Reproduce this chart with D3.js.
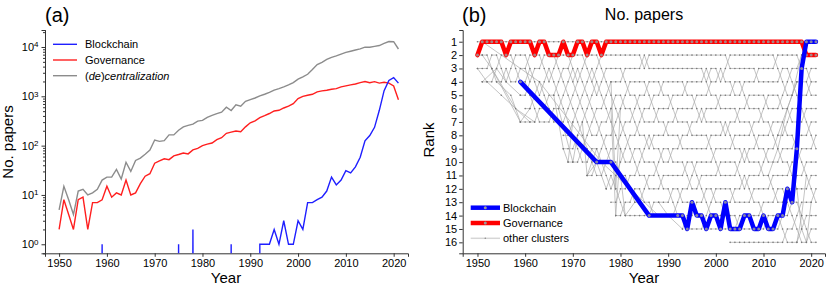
<!DOCTYPE html>
<html>
<head>
<meta charset="utf-8">
<script src="https://cdn.jsdelivr.net/npm/d3@7"></script>
<style>
body { margin: 0; background: #fff; }
svg { font-family: "Liberation Sans", Arial, sans-serif; }
.axis path, .axis line { stroke: #333; }
.axis text { font-size: 11px; fill: #000; }
</style>
</head>
<body>
<svg id="chart" width="831" height="290"></svg>
<script>
// ---- data ----
var years = d3.range(1950, 2022);

var blockchainPapers = [0,0,0,0,0,0,0,0,0,1,
  0,0,0,0,0,0,0,0,0,0, 0,0,0,0,0,1,0,0,2,0,
  0,0,0,0,0,0,1,0,0,0, 0,0,1,1,1,2,1,3,1,1,
  3,2,7,7,8,9,12,23,16,20, 31,28,37,58,125,160,235,520,1300,2100,
  2400,1850];
var governancePapers = [2,8,4,2,8,9,2,7,7,8,
  15,9,11,10,20,10,11,17,24,27,
  44,49,54,52,62,66,71,68,82,88,
  100,107,113,132,145,178,188,198,192,240,
  290,318,370,405,448,505,520,580,630,710,
  900,1000,1050,1100,1230,1290,1330,1390,1430,1550,
  1630,1710,1780,1900,2000,1880,1980,1850,1920,1850,
  1620,850];
var decentralizationPapers = [5,15,8,4,12,13,10,11,13,20,
  23,23,33,21,46,30,50,56,67,81,
  130,122,126,165,165,205,240,258,272,315,
  325,375,410,445,475,600,515,670,630,790,
  855,925,1020,1100,1200,1330,1430,1550,1700,1900,
  2230,2480,2800,3480,4400,4900,5600,6150,6600,7150,
  7750,8200,8700,9150,9900,9900,10300,10700,11800,12900,
  12800,9100];

// rank of each cluster (null = no papers that year)
var governanceRank = [2,1,1,1,1,1,2,1,1,1, 1,1,2,1,1,2,2,2,1,2,
  2,1,1,2,1,1,2,1,1,1, 1,1,1,1,1,1,1,1,1,1,
  1,1,1,1,1,1,1,1,1,1, 1,1,1,1,1,1,1,1,1,1,
  1,1,1,1,1,1,1,1,1,2, 2,2];
var blockchainRank = [null,null,null,null,null,null,null,null,null,4,
  null,null,null,null,null,null,null,null,null,null,
  null,null,null,null,null,10,null,null,10,null,
  null,null,null,null,null,null,14,null,null,null,
  null,null,14,14,15,13,14,14,15,14,
  14,15,13,15,15,15,14,14,15,15,
  14,15,15,14,14,12,13,9,3,1,
  1,1];

// other clusters: first year each rank is occupied, and swaps between rank r and r+1 (year -> year+1)
var rankTicks = d3.range(1, 17);
var rankFirstYear = [1950,1950,1950,1951,1959,1960,1959,1968,1968,1969,1973,1977,1978,1979,1993,2003];
var rankSwaps = [
  [],
  [1952,1954,1957,1960,1963,1966,1969,1972,1975,1984,1985,2002,2012,2017],
  [1953,1955,1956,1958,1960,1961,1964,1965,1967,1969,1970,1971,1973,1974,1976,1980,1997,1998,2000,2001,2008,2013,2015,2019],
  [1960,1962,1963,1966,1968,1970,1972,1974,1975,1977,1981,1985,1988,1993,1998,2003,2005,2014,2016,2019],
  [1961,1964,1967,1969,1971,1973,1976,1978,1980,1983,1986,1990,1995,2000,2006,2010,2013,2017],
  [1962,1965,1968,1970,1972,1974,1977,1979,1982,1984,1987,1991,1996,1997,2004,2009,2015,2018],
  [1969,1971,1973,1975,1978,1980,1983,1989,1994,2001,2002,2007,2011,2014,2019],
  [1970,1972,1976,1979,1981,1985,1986,1992,1998,2003,2008,2012,2016,2020],
  [1971,1973,1975,1977,1980,1982,1984,1988,1990,1999,2005,2006,2010,2013,2017],
  [1974,1976,1979,1983,1987,1993,1995,2000,2004,2009,2015,2018],
  [1977,1978,1981,1985,1988,1994,1996,2005,2006,2011,2016,2019],
  [1979,1982,1984,1990,1992,1997,1999,2003,2007,2012,2014,2020],
  [1980,1986,1991,1995,1998,2001,2009,2015,2017],
  [1993,1997,2004,2010,2013,2016,2018],
  [2014,2017,2019]
];
var otherPaths = [
  [[1951,1],[1963,4],[1976,10],[1988,14]],
  [[1951,2],[1953,3],[1959,7]],
  [[1950,3],[1952,4],[1955,5],[1961,7]],
  [[1951,4],[1954,3],[1956,4],[1959,5]],
  [[1953,3],[1958,6],[1962,7]],
  [[1954,4],[1957,5],[1959,7],[1961,6]],
  [[1966,5],[1968,9],[1969,10],[1970,7]],
  [[1967,6],[1970,10],[1971,8]],
  [[1972,7],[1973,11],[1975,9]],
  [[1973,11],[1975,10],[1977,12]],
  [[1978,4],[1979,12],[1980,6]],
  [[1978,6],[1979,14],[1980,9]],
  [[1980,11],[1981,14],[1983,13]],
  [[1988,13],[1990,14],[1993,15]],
  [[2011,11],[2013,9],[2015,6],[2017,4]],
  [[2013,8],[2016,5],[2018,2]],
  [[2017,12],[2018,15],[2019,16],[2020,13]],
  [[2017,16],[2018,14],[2019,11]]
];

var yearTicks = [1950,1960,1970,1980,1990,2000,2010,2020];
var paperTicks = [1,10,100,1000,10000];

var svg = d3.select('#chart');

// ================= panel (a) =================
var xa = d3.scaleLinear().domain([1947.05, 2023.0]).range([45, 408]);
var ya = d3.scaleLog().domain([0.656, 22100]).range([253.3, 30]);

svg.append('defs').append('clipPath').attr('id', 'clipA')
  .append('rect').attr('x', 45).attr('y', 30).attr('width', 363).attr('height', 223.3);

var minorTicks = [];
paperTicks.forEach(function(p) {
  for (var k = 2; k <= 9; k++) if (p * k < 22100) minorTicks.push(p * k);
});

var gA = svg.append('g');
gA.append('g').attr('class', 'axis').attr('transform', 'translate(0,253.3)')
  .call(d3.axisBottom(xa).tickValues(yearTicks).tickFormat(d3.format('d')).tickSizeOuter(0).tickSize(3.5).tickPadding(2));
gA.append('g').attr('class', 'axis').attr('transform', 'translate(45,0)')
  .call(d3.axisLeft(ya).tickValues(minorTicks).tickFormat('').tickSizeOuter(0).tickSize(2));
var yAxA = gA.append('g').attr('class', 'axis').attr('transform', 'translate(45,0)')
  .call(d3.axisLeft(ya).tickValues(paperTicks).tickFormat('').tickSizeOuter(0).tickSize(3.5).tickPadding(3));
yAxA.selectAll('.tick text').each(function(d) {
  var t = d3.select(this);
  t.append('tspan').text('10');
  t.append('tspan').attr('dy', '-0.45em').style('font-size', '8px').text(Math.round(Math.log10(d)));
});

var lineA = d3.line()
  .x(function(d) { return xa(d[0]); })
  .y(function(d) { return ya(Math.max(d[1], 1e-30)); });

var seriesA = [
  { name: 'Blockchain', values: blockchainPapers, color: '#1f1fff' },
  { name: 'Governance', values: governancePapers, color: '#ff1f1f' },
  { name: '(de)centralization', values: decentralizationPapers, color: '#8c8c8c' }
];
var plotA = gA.append('g').attr('clip-path', 'url(#clipA)');
seriesA.slice().reverse().forEach(function(s) {
  plotA.append('path')
    .datum(years.map(function(y, i) { return [y, s.values[i]]; }))
    .attr('d', lineA).attr('fill', 'none')
    .attr('stroke', s.color).attr('stroke-width', 1.4);
});

// legend (a)
var legA = gA.append('g');
seriesA.forEach(function(s, i) {
  var yy = 44.3 + i * 15.7;
  legA.append('line').attr('x1', 53).attr('x2', 77).attr('y1', yy).attr('y2', yy)
    .attr('stroke', s.color).attr('stroke-width', 1.4);
  var t = legA.append('text').attr('x', 85).attr('y', yy).attr('dy', '0.35em').style('font-size', '11px');
  if (i < 2) t.text(s.name);
  else {
    t.append('tspan').text('(');
    t.append('tspan').style('font-style', 'italic').text('de');
    t.append('tspan').text(')');
    t.append('tspan').style('font-style', 'italic').text('centralization');
  }
});

gA.append('text').attr('x', 45).attr('y', 22).style('font-size', '20px').text('(a)');
gA.append('text').attr('x', 226).attr('y', 283).attr('text-anchor', 'middle').style('font-size', '15px').text('Year');
gA.append('text').attr('transform', 'translate(13,142) rotate(-90)').attr('text-anchor', 'middle').style('font-size', '15px').text('No. papers');

// ================= panel (b) =================
var xb = d3.scaleLinear().domain([1946.9, 2022.9]).range([462.7, 825]);
var yb = d3.scaleLinear().domain([0.125, 16.82]).range([30, 253.3]);

var gB = svg.append('g');
gB.append('g').attr('class', 'axis').attr('transform', 'translate(0,253.3)')
  .call(d3.axisBottom(xb).tickValues(yearTicks).tickFormat(d3.format('d')).tickSizeOuter(0).tickSize(3.5).tickPadding(2));
gB.append('g').attr('class', 'axis').attr('transform', 'translate(462.7,0)')
  .call(d3.axisLeft(yb).tickValues(rankTicks).tickSizeOuter(0).tickSize(3.5).tickPadding(2));

// other clusters grid
var segs = [];
var pts = [];
for (var r = 1; r <= 16; r++) {
  years.forEach(function(t) {
    if (t < rankFirstYear[r - 1]) return;
    pts.push([t, r]);
    if (t === 2021) return;
    var down = r < 16 && rankSwaps[r - 1].indexOf(t) >= 0;
    var up = r > 1 && rankSwaps[r - 2].indexOf(t) >= 0;
    if (down) segs.push([[t, r], [t + 1, r + 1]]);
    if (up) segs.push([[t, r], [t + 1, r - 1]]);
    if (!down && !up) segs.push([[t, r], [t + 1, r]]);
  });
}
var lineB = d3.line().x(function(d) { return xb(d[0]); }).y(function(d) { return yb(d[1]); });
var other = gB.append('g');
other.selectAll('path.seg').data(segs.concat(otherPaths)).enter().append('path')
  .attr('class', 'seg').attr('d', lineB).attr('fill', 'none')
  .attr('stroke', '#aaaaaa').attr('stroke-width', 0.7);
otherPaths.forEach(function(p) { p.forEach(function(q) { pts.push(q); }); });
other.selectAll('circle').data(pts).enter().append('circle')
  .attr('cx', function(d) { return xb(d[0]); }).attr('cy', function(d) { return yb(d[1]); })
  .attr('r', 0.8).attr('fill', '#777');

function rankSeries(vals) {
  return years.map(function(y, i) { return [y, vals[i]]; }).filter(function(d) { return d[1] != null; });
}
var seriesB = [
  { name: 'Governance', data: rankSeries(governanceRank), color: '#ff0000' },
  { name: 'Blockchain', data: rankSeries(blockchainRank), color: '#0000ff' }
];
seriesB.forEach(function(s) {
  gB.append('path').datum(s.data).attr('d', lineB).attr('fill', 'none')
    .attr('stroke', s.color).attr('stroke-width', 4.5)
    .attr('stroke-linejoin', 'round').attr('stroke-linecap', 'round');
  gB.append('g').selectAll('circle').data(s.data).enter().append('circle')
    .attr('cx', function(d) { return xb(d[0]); }).attr('cy', function(d) { return yb(d[1]); })
    .attr('r', 1.5).attr('fill', '#9a9a9a').attr('opacity', 0.85);
});

// legend (b)
var legB = [
  { name: 'Blockchain', color: '#0000ff', w: 4.5 },
  { name: 'Governance', color: '#ff0000', w: 4.5 },
  { name: 'other clusters', color: '#d6d6d6', w: 1.5 }
];
legB.forEach(function(s, i) {
  var yy = 207.7 + i * 15.3;
  gB.append('line').attr('x1', 470.7).attr('x2', 500).attr('y1', yy).attr('y2', yy)
    .attr('stroke', s.color).attr('stroke-width', s.w);
  gB.append('circle').attr('cx', 485.3).attr('cy', yy).attr('r', i < 2 ? 1.5 : 0.8)
    .attr('fill', i < 2 ? '#9a9a9a' : '#8a8a8a');
  gB.append('text').attr('x', 503).attr('y', yy).attr('dy', '0.35em').style('font-size', '11px').text(s.name);
});

gB.append('text').attr('x', 462).attr('y', 22).style('font-size', '20px').text('(b)');
gB.append('text').attr('x', 644).attr('y', 20).attr('text-anchor', 'middle').style('font-size', '16px').text('No. papers');
gB.append('text').attr('x', 644).attr('y', 283).attr('text-anchor', 'middle').style('font-size', '15px').text('Year');
gB.append('text').attr('transform', 'translate(434,140) rotate(-90)').attr('text-anchor', 'middle').style('font-size', '15px').text('Rank');
</script>
</body>
</html>
